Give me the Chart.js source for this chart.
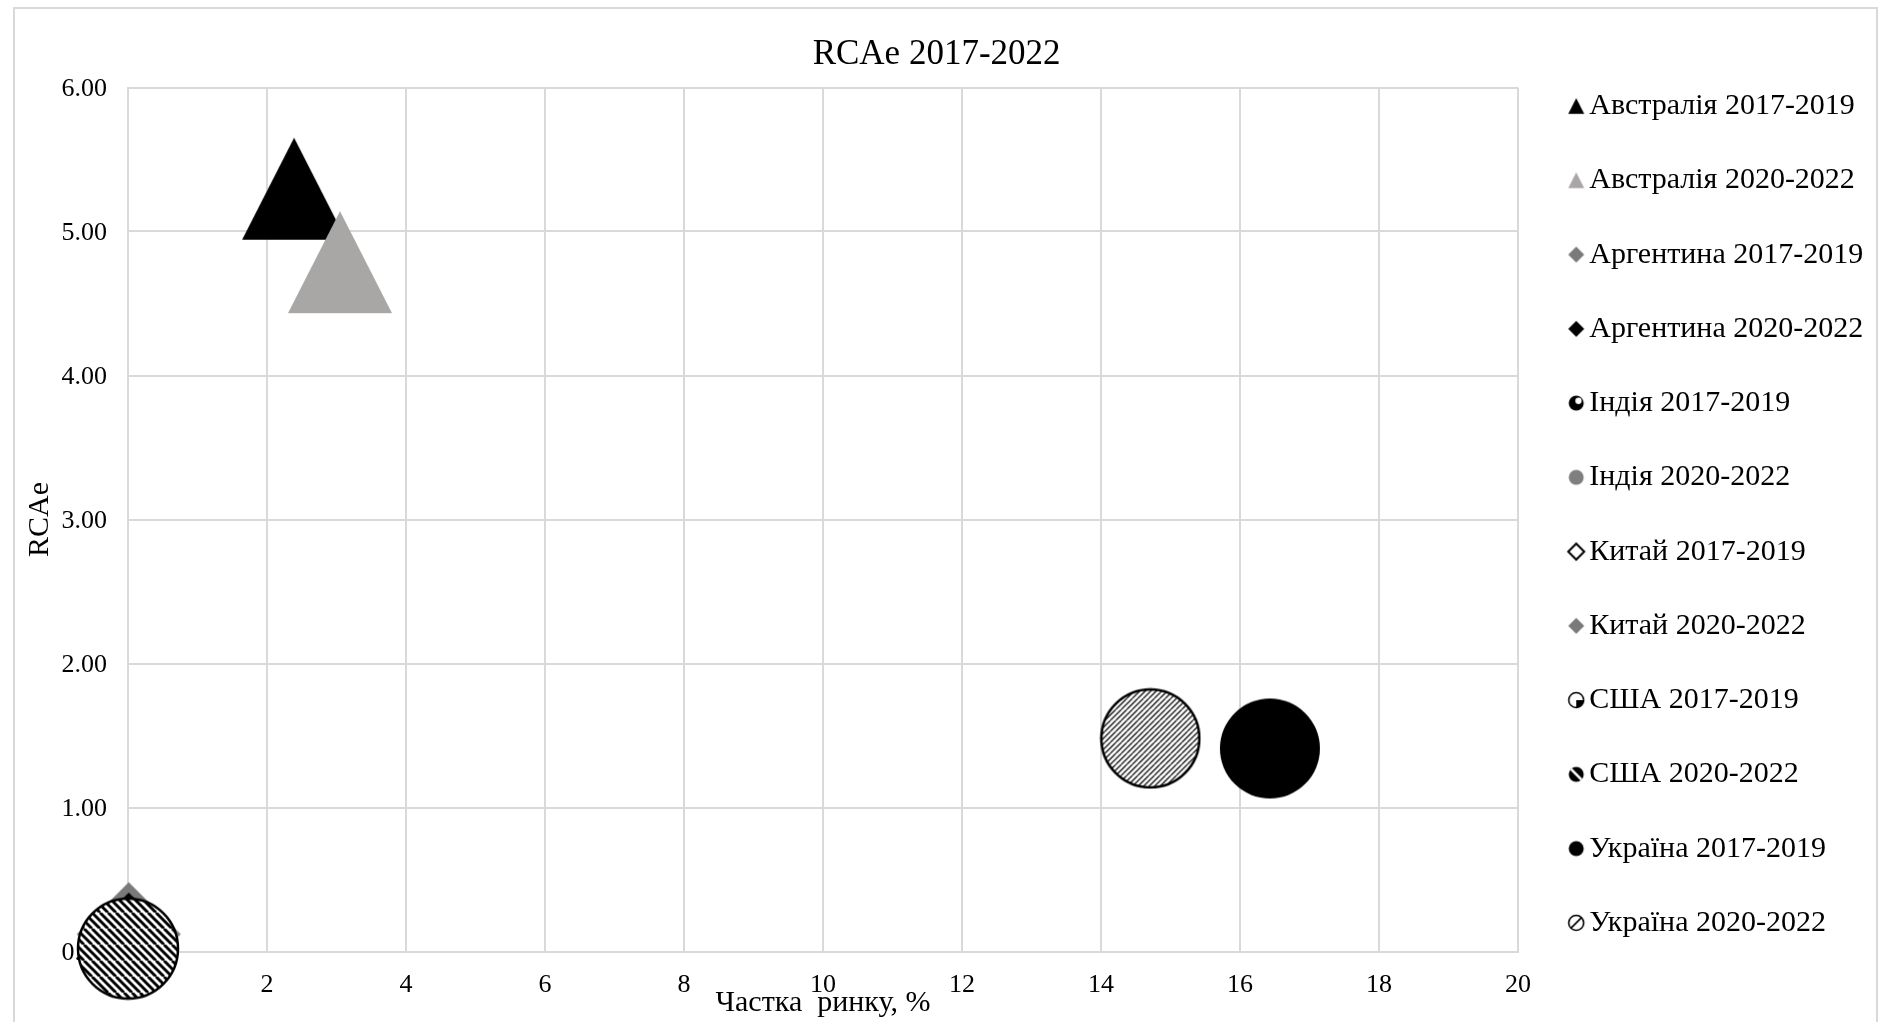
<!DOCTYPE html>
<html lang="uk">
<head>
<meta charset="utf-8">
<title>RCAe 2017-2022</title>
<script src="https://cdn.jsdelivr.net/npm/chart.js@4.4.1/dist/chart.umd.min.js"></script>
<style>
  html, body { margin: 0; padding: 0; background: #fff; }
  #rcaChart { display: block; }
</style>
</head>
<body>
<canvas id="rcaChart" width="1886" height="1022"></canvas>
<script>
// Series: market share (%) on x, RCAe on y
const seriesNames = [
    'Австралія 2017-2019', 'Австралія 2020-2022',
    'Аргентина 2017-2019', 'Аргентина 2020-2022',
    'Індія 2017-2019', 'Індія 2020-2022',
    'Китай 2017-2019', 'Китай 2020-2022',
    'США 2017-2019', 'США 2020-2022',
    'Україна 2017-2019', 'Україна 2020-2022'
];
const marketShare = [2.39, 3.05, 0.01, 0.01, 0.01, 0.01, 0.01, 0.01, 0.01, 0.00, 16.43, 14.71];
const rcaValues   = [5.29, 4.78, 0.12, 0.09, 0.02, 0.02, 0.03, 0.03, 0.02, 0.02, 1.41, 1.48];

const xTickValues = [0, 2, 4, 6, 8, 10, 12, 14, 16, 18, 20];
const yTickValues = [0, 1, 2, 3, 4, 5, 6];

const chartTitle = 'RCAe 2017-2022';
const xTitle = 'Частка  ринку, %';
const yTitle = 'RCAe';

// marker look per series (shape + diameter in px)
const markerKinds = ['triBlack', 'triGray', 'diaGray', 'diaBlack', 'circIndia', 'circGray',
                     'diaWhite', 'diaGray', 'circUsa', 'hatchDense', 'circBlack', 'hatchThin'];
const markerSizes = [104, 104, 104, 92, 60, 60, 70, 70, 70, 100, 100, 98];

const FONT = '"Liberation Serif", "Times New Roman", serif';
const GRID = '#d9d9d9';
const LEGEND_SIZE = 30;
const LEGEND_PAD = 44.25;
const LEGEND_BOX = 12;
const TOP_PAD = 7;
const PLOT_LEFT = 128;
const PLOT_RIGHT = 1518;
const PLOT_BOTTOM = 951.5;

function hatchTile(period, width, dir, color) {
    // tile holding two diagonal lines so fractional spacing still repeats cleanly
    const size = Math.round(period * 2);
    const step = size / 2;
    const t = document.createElement('canvas');
    t.width = size; t.height = size;
    const c = t.getContext('2d');
    c.fillStyle = '#fff';
    c.fillRect(0, 0, size, size);
    c.strokeStyle = color;
    c.lineWidth = width;
    c.beginPath();
    for (let k = -2; k <= 4; k++) {
        const o = k * step;
        if (dir === 'down') { c.moveTo(o, 0); c.lineTo(o + size, size); }
        else { c.moveTo(o, size); c.lineTo(o + size, 0); }
    }
    c.stroke();
    return t;
}

function drawMarker(ctx, kind, cx, cy, d, small) {
    const r = d / 2;
    ctx.save();
    const circle = () => { ctx.beginPath(); ctx.arc(cx, cy, r, 0, Math.PI * 2); };
    const diamond = () => {
        ctx.beginPath();
        ctx.moveTo(cx, cy - r); ctx.lineTo(cx + r, cy);
        ctx.lineTo(cx, cy + r); ctx.lineTo(cx - r, cy);
        ctx.closePath();
    };
    switch (kind) {
        case 'triBlack':
        case 'triGray':
            ctx.fillStyle = kind === 'triBlack' ? '#000' : '#a9a6a6';
            ctx.beginPath();
            ctx.moveTo(cx, cy - r);
            ctx.lineTo(cx + r, cy + r * 0.96);
            ctx.lineTo(cx - r, cy + r * 0.96);
            ctx.closePath();
            ctx.fill();
            break;
        case 'diaGray':
            diamond(); ctx.fillStyle = '#7a7a7a'; ctx.fill();
            break;
        case 'diaBlack':
            diamond(); ctx.fillStyle = '#000'; ctx.fill();
            break;
        case 'diaWhite':
            diamond(); ctx.fillStyle = '#fff'; ctx.fill();
            ctx.lineWidth = small ? 2 : 3; ctx.strokeStyle = '#000'; ctx.stroke();
            break;
        case 'circGray':
            circle(); ctx.fillStyle = '#7f7f7f'; ctx.fill();
            break;
        case 'circBlack':
            circle(); ctx.fillStyle = '#000'; ctx.fill();
            break;
        case 'circIndia':
            circle(); ctx.fillStyle = '#000'; ctx.fill();
            ctx.beginPath(); ctx.arc(cx + r * 0.3, cy - r * 0.3, r * 0.42, 0, Math.PI * 2);
            ctx.fillStyle = '#fff'; ctx.fill();
            break;
        case 'circUsa':
            circle(); ctx.fillStyle = '#fff'; ctx.fill();
            ctx.beginPath(); ctx.moveTo(cx, cy); ctx.arc(cx, cy, r, 0, Math.PI / 2); ctx.closePath();
            ctx.fillStyle = '#000'; ctx.fill();
            circle(); ctx.lineWidth = 1.5; ctx.strokeStyle = '#000'; ctx.stroke();
            break;
        case 'hatchDense':
            circle();
            if (small) {
                ctx.fillStyle = '#000'; ctx.fill();
                ctx.save(); ctx.clip();
                ctx.beginPath(); ctx.moveTo(cx - r, cy - r); ctx.lineTo(cx + r, cy + r);
                ctx.strokeStyle = '#fff'; ctx.lineWidth = 2.6; ctx.stroke();
                ctx.restore();
            } else {
                ctx.fillStyle = ctx.createPattern(hatchTile(8, 2.9, 'down', '#000'), 'repeat');
                ctx.fill();
                ctx.lineWidth = 2.5; ctx.strokeStyle = '#000'; ctx.stroke();
            }
            break;
        case 'hatchThin':
            circle();
            if (small) {
                ctx.fillStyle = '#fff'; ctx.fill();
                ctx.lineWidth = 1.6; ctx.strokeStyle = '#000'; ctx.stroke();
                ctx.save(); circle(); ctx.clip();
                ctx.beginPath(); ctx.moveTo(cx - r, cy + r); ctx.lineTo(cx + r, cy - r);
                ctx.lineWidth = 1.6; ctx.stroke();
                ctx.restore();
            } else {
                ctx.fillStyle = ctx.createPattern(hatchTile(5.5, 1.3, 'up', '#111'), 'repeat');
                ctx.fill();
                ctx.lineWidth = 2.5; ctx.strokeStyle = '#000'; ctx.stroke();
            }
            break;
    }
    ctx.restore();
}

function markerCanvas(kind, d) {
    const size = Math.ceil(d) + 4;
    const c = document.createElement('canvas');
    c.width = size; c.height = size;
    drawMarker(c.getContext('2d'), kind, size / 2, size / 2, d, false);
    return c;
}

// legend icons sit a little right of the box centre, close to the text
function legendIcon(kind) {
    const c = document.createElement('canvas');
    c.width = 36; c.height = 22;
    const d = kind.startsWith('tri') ? 16 : (kind.startsWith('dia') ? 16 : 15);
    drawMarker(c.getContext('2d'), kind, 26, 11, d, true);
    return c;
}

const legendIcons = markerKinds.map(legendIcon);

const datasets = seriesNames.map((name, i) => ({
    label: name,
    data: [{ x: marketShare[i], y: rcaValues[i] }],
    pointStyle: markerCanvas(markerKinds[i], markerSizes[i]),
    pointRadius: markerSizes[i] / 2,
    pointHoverRadius: markerSizes[i] / 2,
    backgroundColor: '#000',
    borderColor: '#000',
    borderWidth: 0,
    clip: false,
    // later series are painted over earlier ones
    order: seriesNames.length - i
}));

// keep the plot's right edge fixed by sizing the right padding to the legend text
const measure = document.createElement('canvas').getContext('2d');
measure.font = `${LEGEND_SIZE}px ${FONT}`;
const widest = Math.max(...seriesNames.map(n => measure.measureText(n).width));
const rightPad = 1886 - (PLOT_RIGHT + LEGEND_PAD + LEGEND_BOX + LEGEND_SIZE / 2 + widest + 10);

const chartFrame = {
    id: 'chartFrame',
    beforeDraw(chart) {
        const ctx = chart.ctx;
        ctx.save();
        ctx.fillStyle = '#fff';
        ctx.fillRect(0, 0, chart.width, chart.height);
        ctx.strokeStyle = GRID;
        ctx.lineWidth = 2;
        ctx.strokeRect(14, 8, 1863, 1040);
        ctx.restore();
    }
};

new Chart(document.getElementById('rcaChart'), {
    type: 'scatter',
    data: { datasets: datasets },
    plugins: [chartFrame],
    options: {
        responsive: false,
        animation: false,
        events: [],
        layout: { padding: { left: 0, top: TOP_PAD, bottom: 0, right: rightPad } },
        plugins: {
            title: {
                display: true,
                text: chartTitle,
                color: '#000',
                font: { family: FONT, size: 35, weight: 'normal' },
                padding: { top: 26.6, bottom: 11.9 }
            },
            legend: {
                position: 'right',
                align: 'center',
                labels: {
                    usePointStyle: true,
                    boxWidth: LEGEND_BOX,
                    boxHeight: LEGEND_BOX,
                    padding: LEGEND_PAD,
                    color: '#000',
                    font: { family: FONT, size: LEGEND_SIZE },
                    generateLabels: chart => chart.data.datasets.map((ds, i) => ({
                        text: ds.label,
                        pointStyle: legendIcons[i],
                        fillStyle: 'rgba(0,0,0,0)',
                        strokeStyle: 'rgba(0,0,0,0)',
                        lineWidth: 0,
                        hidden: false,
                        fontColor: '#000',
                        datasetIndex: i
                    }))
                }
            },
            tooltip: { enabled: false }
        },
        scales: {
            x: {
                type: 'linear',
                min: xTickValues[0],
                max: xTickValues[xTickValues.length - 1],
                afterBuildTicks: s => { s.ticks = xTickValues.map(v => ({ value: v })); },
                afterFit: s => { s.height = 1022 - PLOT_BOTTOM; },
                ticks: {
                    autoSkip: false,
                    maxRotation: 0,
                    padding: 18.5,
                    color: '#000',
                    font: { family: FONT, size: 26 }
                },
                grid: { color: GRID, lineWidth: 2, drawTicks: false },
                border: { color: GRID, width: 2 },
                title: {
                    display: true,
                    text: xTitle,
                    color: '#000',
                    font: { family: FONT, size: 30 },
                    padding: { top: 0, bottom: 1 }
                }
            },
            y: {
                type: 'linear',
                min: yTickValues[0],
                max: yTickValues[yTickValues.length - 1],
                afterBuildTicks: s => { s.ticks = yTickValues.map(v => ({ value: v })); },
                afterFit: s => { s.width = PLOT_LEFT; },
                ticks: {
                    padding: 21,
                    labelOffset: 2,
                    color: '#000',
                    font: { family: FONT, size: 26 },
                    callback: v => v.toFixed(2)
                },
                grid: { color: GRID, lineWidth: 2, drawTicks: false },
                border: { color: GRID, width: 2 },
                title: {
                    display: true,
                    text: yTitle,
                    color: '#000',
                    font: { family: FONT, size: 30 },
                    padding: { top: 22.5, bottom: 0 }
                }
            }
        }
    }
});
</script>
</body>
</html>
